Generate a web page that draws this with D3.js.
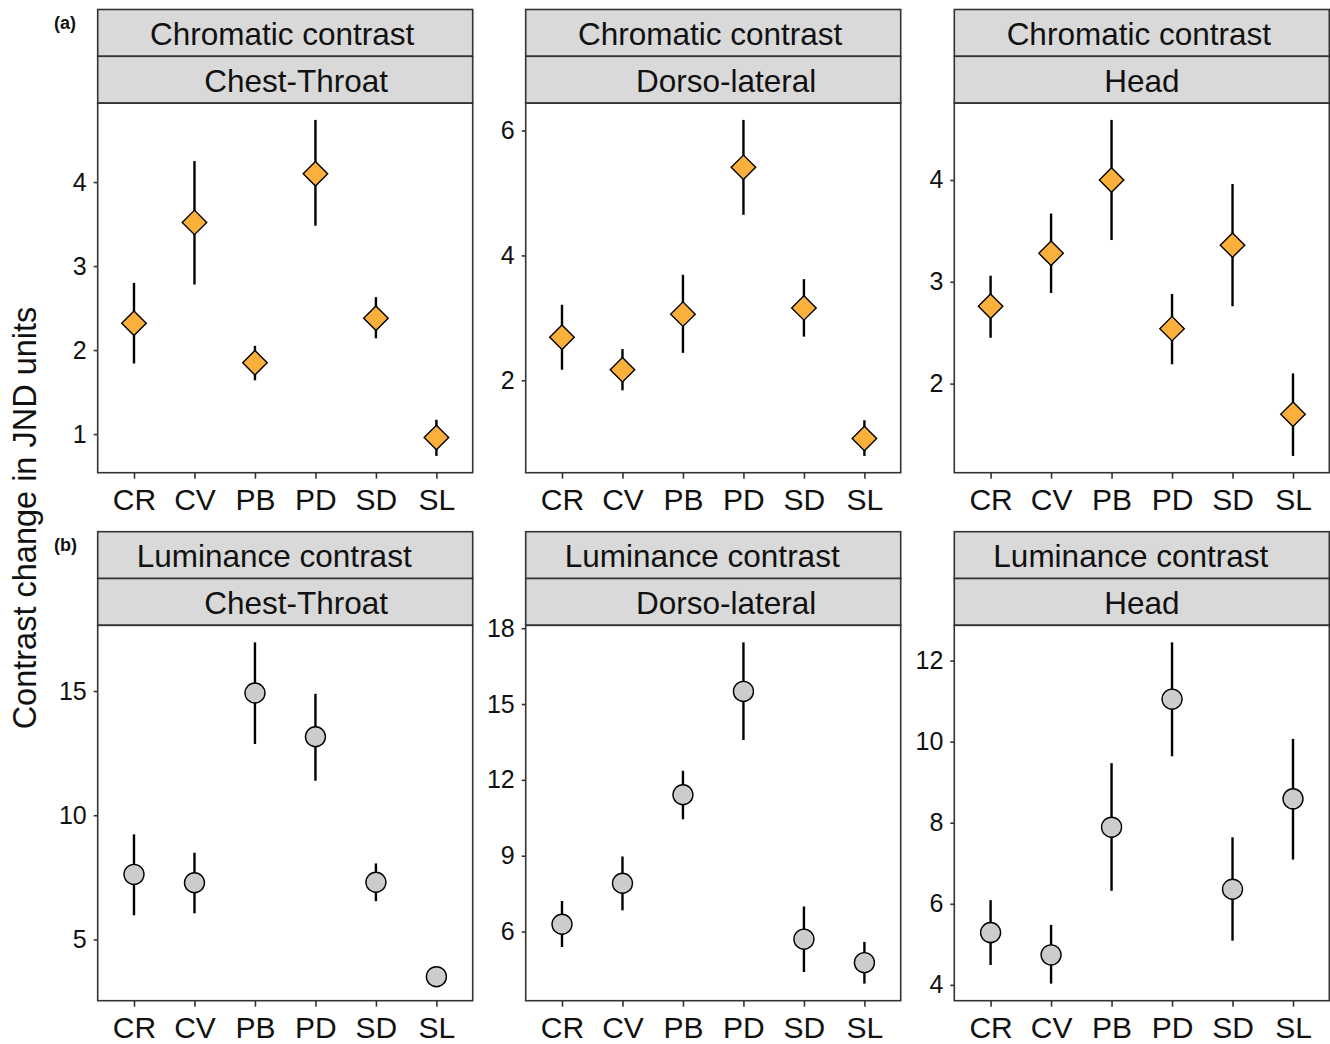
<!DOCTYPE html>
<html>
<head>
<meta charset="utf-8">
<script src="https://cdn.jsdelivr.net/npm/d3@7"></script>
<style>
  body { margin: 0; background: #fff; }
  text { font-family: "Liberation Sans", Arial, Helvetica, sans-serif; }
</style>
</head>
<body>
<svg id="chart" width="1330" height="1044"></svg>
<script>
// categories
var species = ["CR", "CV", "PB", "PD", "SD", "SL"];
var contrastTypes = ["Chromatic contrast", "Luminance contrast"];
var bodyRegions = ["Chest-Throat", "Dorso-lateral", "Head"];
var rowTags = ["(a)", "(b)"];

// chromatic contrast: one row per body region, values in species order
var chromMean = [
    [2.32, 3.52, 1.85, 4.10, 2.38, 0.96],
    [2.69, 2.17, 3.06, 5.41, 3.16, 1.07],
    [2.76, 3.28, 4.00, 2.54, 3.36, 1.70]
];
var chromLow = [
    [1.84, 2.78, 1.64, 3.48, 2.14, 0.74],
    [2.17, 1.84, 2.44, 4.65, 2.70, 0.79],
    [2.45, 2.89, 3.41, 2.19, 2.76, 1.29]
];
var chromHigh = [
    [2.80, 4.25, 2.05, 4.74, 2.63, 1.17],
    [3.21, 2.50, 3.69, 6.17, 3.62, 1.36],
    [3.06, 3.67, 4.59, 2.88, 3.96, 2.10]
];

// luminance contrast
var lumMean = [
    [7.62, 7.28, 14.92, 13.16, 7.30, 3.50],
    [6.29, 7.91, 11.41, 15.50, 5.70, 4.77],
    [5.29, 4.74, 7.89, 11.05, 6.36, 8.59]
];
var lumLow = [
    [5.97, 6.05, 12.87, 11.39, 6.54, 3.22],
    [5.39, 6.84, 10.44, 13.58, 4.40, 3.94],
    [4.49, 4.03, 6.32, 9.64, 5.09, 7.09]
];
var lumHigh = [
    [9.23, 8.49, 16.96, 14.89, 8.06, 3.78],
    [7.21, 8.97, 12.36, 17.44, 6.99, 5.59],
    [6.09, 5.48, 9.47, 12.45, 7.64, 10.07]
];

// y tick labels per panel
var chromTicks = [[1, 2, 3, 4], [2, 4, 6], [2, 3, 4]];
var lumTicks = [[5, 10, 15], [6, 9, 12, 15, 18], [4, 6, 8, 10, 12]];

var svg = d3.select("#chart");

var colLeft = [97.7, 525.7, 954.3];
var panelW = 375;
var rowTop = [9.5, 531.7];
var stripH = 46.8;
var panelBottom = [472.7, 1000.7];

// strip labels sit a little off centre in the original
var stripNudge = {"Chromatic contrast": -3, "Luminance contrast": -11,
                  "Chest-Throat": 11, "Dorso-lateral": 13, "Head": 0};

var rows = [
    {mean: chromMean, low: chromLow, high: chromHigh, ticks: chromTicks, shape: "diamond"},
    {mean: lumMean, low: lumLow, high: lumHigh, ticks: lumTicks, shape: "circle"}
];

var diamond = d3.symbol().type(d3.symbolSquare).size(300);
var circle = d3.symbol().type(d3.symbolCircle).size(Math.PI * 100);

rows.forEach(function(row, ri) {
    bodyRegions.forEach(function(region, ci) {
        var x0 = colLeft[ci];
        var top = rowTop[ri];
        var pTop = top + 2 * stripH;
        var pBot = panelBottom[ri];

        var recs = species.map(function(s, i) {
            return {sp: s, m: row.mean[ci][i], lo: row.low[ci][i], hi: row.high[ci][i]};
        });

        var lo = d3.min(recs, (d) => d.lo);
        var hi = d3.max(recs, (d) => d.hi);
        var pad = (hi - lo) * 0.05;

        var x = d3.scalePoint().domain(species).range([x0, x0 + panelW]).padding(0.6);
        var y = d3.scaleLinear().domain([lo - pad, hi + pad]).range([pBot, pTop]);

        var g = svg.append("g");

        // strips
        [contrastTypes[ri], region].forEach(function(lab, k) {
            g.append("rect")
                .attr("x", x0).attr("y", top + k * stripH)
                .attr("width", panelW).attr("height", stripH)
                .style("fill", "#d9d9d9").style("stroke", "#333").style("stroke-width", 1.6);
            g.append("text")
                .attr("x", x0 + panelW / 2 + stripNudge[lab]).attr("y", top + k * stripH + stripH / 2 + 1)
                .attr("text-anchor", "middle").attr("dominant-baseline", "central")
                .style("font-size", "31.5px").style("fill", "#111")
                .text(lab);
        });

        // axes
        var xAxis = g.append("g")
            .attr("transform", "translate(0," + pBot + ")")
            .call(d3.axisBottom(x).tickSize(6).tickPadding(10));
        xAxis.select(".domain").remove();
        xAxis.selectAll("line").style("stroke", "#333").style("stroke-width", 1.6);
        xAxis.selectAll("text").style("font-size", "30px").style("fill", "#111")
            .style("font-family", "Liberation Sans, Arial, sans-serif");

        var yAxis = g.append("g")
            .attr("transform", "translate(" + x0 + ",0)")
            .call(d3.axisLeft(y).tickValues(row.ticks[ci]).tickFormat(d3.format("d"))
                .tickSize(4).tickPadding(7));
        yAxis.select(".domain").remove();
        yAxis.selectAll("line").style("stroke", "#333").style("stroke-width", 1.6);
        yAxis.selectAll("text").style("font-size", "25px").style("fill", "#111")
            .style("font-family", "Liberation Sans, Arial, sans-serif");

        // panel border
        g.append("rect")
            .attr("x", x0).attr("y", pTop)
            .attr("width", panelW).attr("height", pBot - pTop)
            .style("fill", "none").style("stroke", "#333").style("stroke-width", 1.6);

        // error bars
        g.selectAll(".err")
            .data(recs)
            .enter().append("line")
            .attr("x1", (d) => x(d.sp)).attr("x2", (d) => x(d.sp))
            .attr("y1", (d) => y(d.lo)).attr("y2", (d) => y(d.hi))
            .style("stroke", "#000").style("stroke-width", 2.4);

        // points
        g.selectAll(".pt")
            .data(recs)
            .enter().append("path")
            .attr("d", row.shape === "diamond" ? diamond : circle)
            .attr("transform", function(d) {
                var t = "translate(" + x(d.sp) + "," + y(d.m) + ")";
                return row.shape === "diamond" ? t + " rotate(45)" : t;
            })
            .style("fill", row.shape === "diamond" ? "#fbb03b" : "#cccccc")
            .style("stroke", "#000").style("stroke-width", 1.4);
    });

    svg.append("text")
        .attr("x", 54).attr("y", rowTop[ri] + 19)
        .style("font-size", "18px").style("font-weight", "bold").style("fill", "#111")
        .text(rowTags[ri]);
});

svg.append("text")
    .attr("transform", "translate(36,518) rotate(-90)")
    .attr("text-anchor", "middle")
    .style("font-size", "32.5px").style("fill", "#111")
    .text("Contrast change in JND units");
</script>
</body>
</html>
